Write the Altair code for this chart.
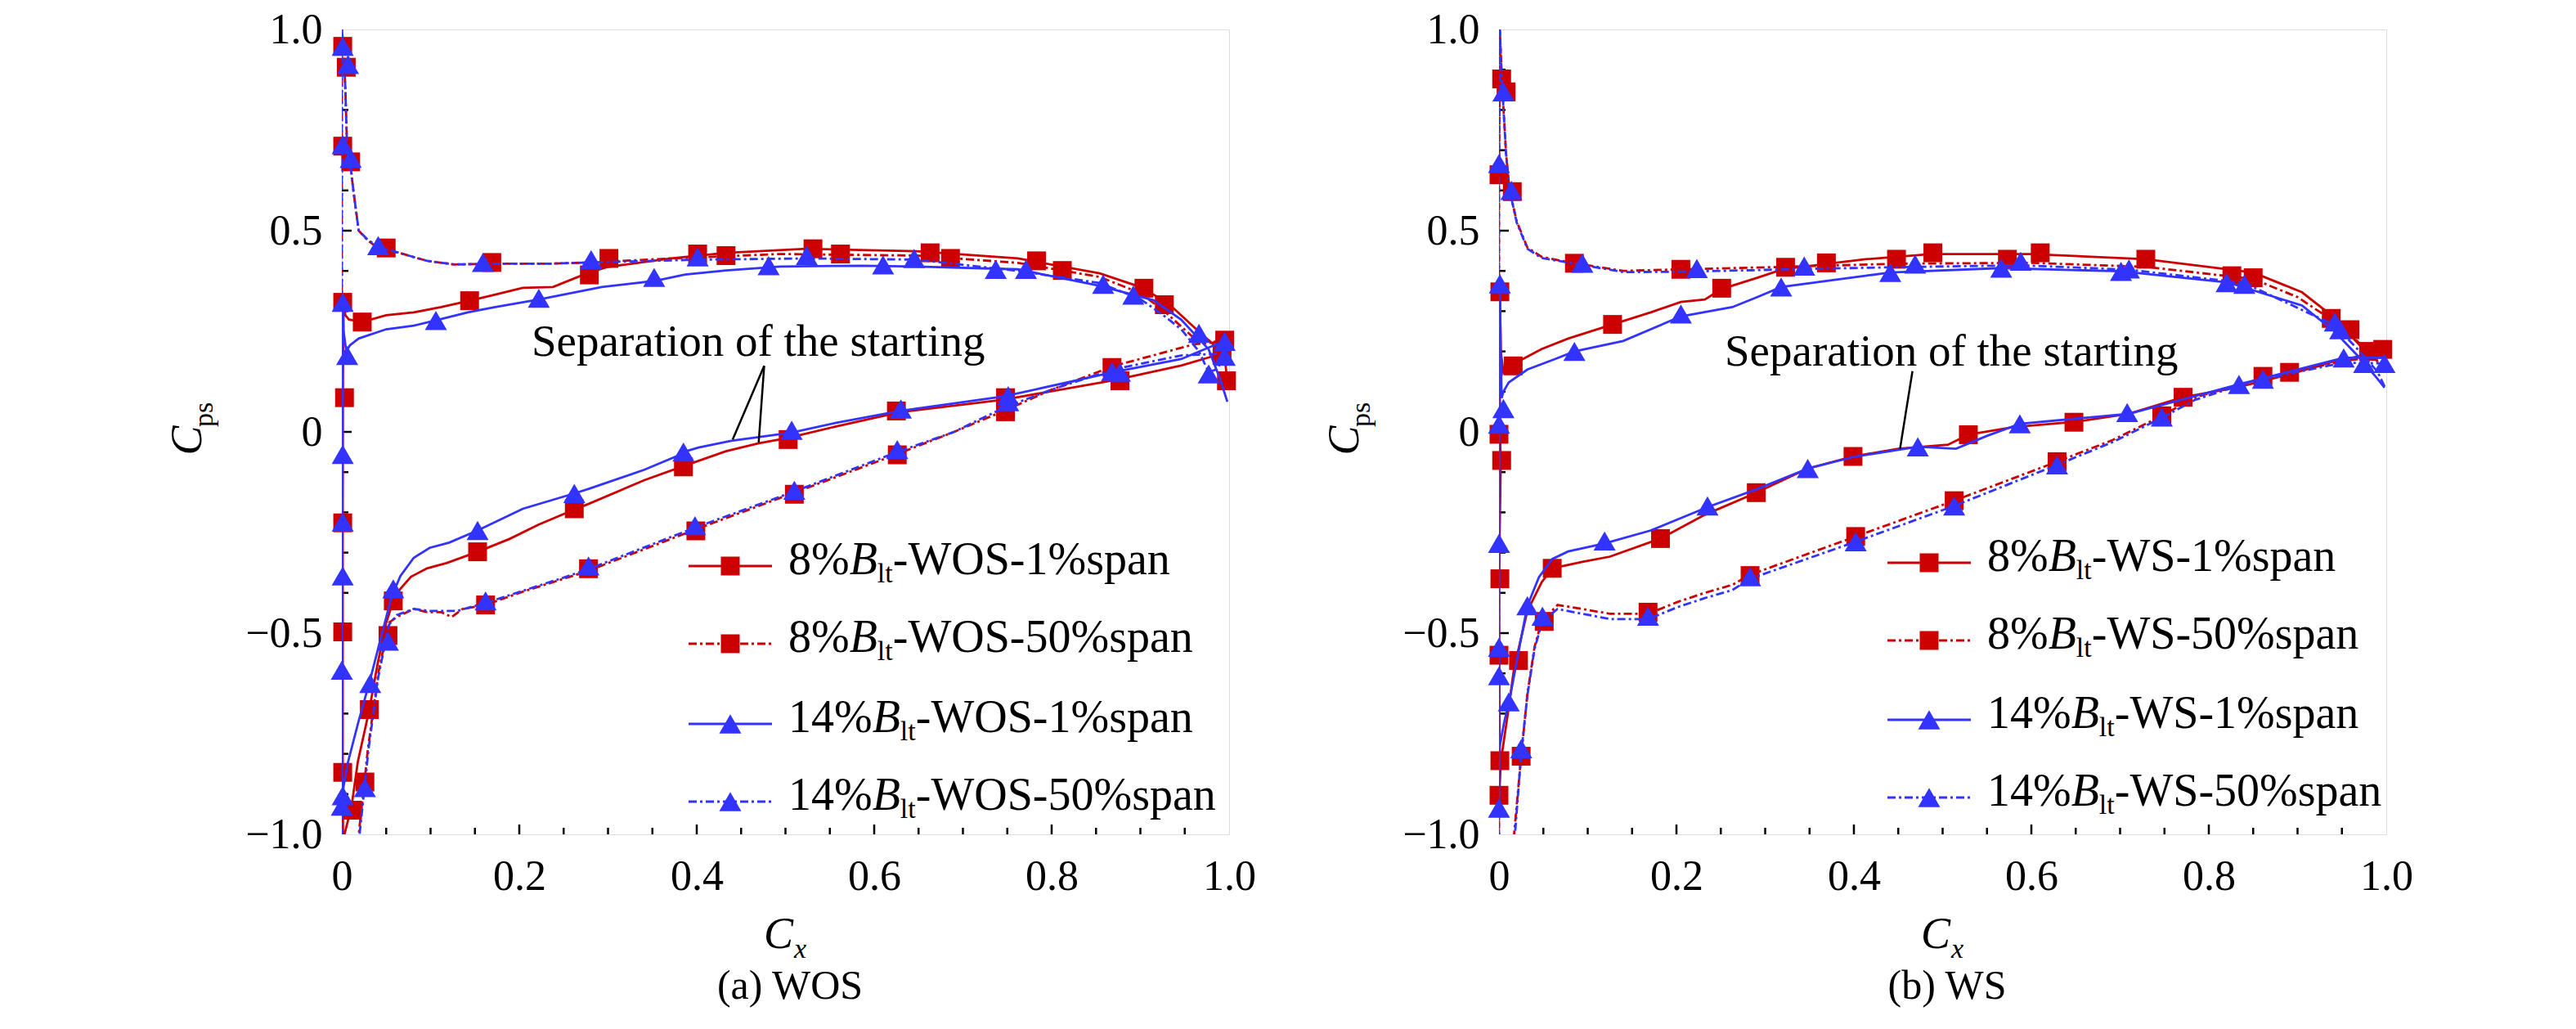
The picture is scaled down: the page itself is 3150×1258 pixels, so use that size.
import altair as alt
import pandas as pd

FONT = "Liberation Serif, Times New Roman, Tinos, DejaVu Serif, serif"
RED = "#CC0000"
BLUE = "#3333FF"
W, H = 1085, 984
LW = 2.8

# ---------------- (a) WOS ----------------
WOS_8_1_X = [0.998, 0.995, 0.986, 0.961, 0.931, 0.9, 0.854, 0.762, 0.648, 0.524, 0.433, 0.371, 0.3, 0.279, 0.266, 0.238, 0.204, 0.173, 0.144, 0.112, 0.081, 0.05, 0.023, 0.008, 0.004, 0.002,
             0.001, 0.001, 0.001, 0.001, 0.0015,
             0.003, 0.011, 0.018, 0.031, 0.04, 0.05, 0.058, 0.066, 0.078, 0.096, 0.118, 0.153, 0.189, 0.222, 0.262, 0.279, 0.341, 0.385, 0.433, 0.47, 0.503, 0.556, 0.629, 0.746, 0.869, 0.946, 0.977, 0.998]
WOS_8_1_Y = [0.12, 0.19, 0.21, 0.259, 0.32, 0.36, 0.394, 0.431, 0.449, 0.455, 0.445, 0.431, 0.41, 0.396, 0.385, 0.36, 0.358, 0.341, 0.326, 0.31, 0.297, 0.29, 0.273, 0.279, 0.29, 0.322,
             0.085, -0.226, -0.5, -0.85, -1.1,
             -1.0, -0.93, -0.82, -0.69, -0.58, -0.474, -0.42, -0.39, -0.36, -0.339, -0.326, -0.298, -0.266, -0.23, -0.193, -0.178, -0.12, -0.085, -0.048, -0.028, -0.015, 0.013, 0.049, 0.08, 0.128, 0.165, 0.185, 0.2]
WOS_8_1_MX = [0.001, 0.003, 0.001, 0.001, 0.001, 0.012, 0.031, 0.058, 0.153, 0.262, 0.385, 0.503, 0.625, 0.748, 0.877, 0.997, 0.023, 0.144, 0.279, 0.401, 0.531, 0.663, 0.783, 0.904, 0.992]
WOS_8_1_MY = [0.322, 0.085, -0.226, -0.497, -0.846, -0.94, -0.69, -0.42, -0.298, -0.191, -0.087, -0.019, 0.052, 0.085, 0.127, 0.127, 0.273, 0.326, 0.39, 0.442, 0.455, 0.445, 0.425, 0.357, 0.19]

WOS_8_50_X = [0.998, 0.99, 0.961, 0.927, 0.9, 0.854, 0.762, 0.648, 0.494, 0.371, 0.279, 0.235, 0.173, 0.127, 0.096, 0.066, 0.041, 0.029, 0.019, 0.013, 0.01, 0.006, 0.004, 0.002, 0.0,
              0.0, 0.0,
              0.017, 0.019, 0.026, 0.029, 0.041, 0.053, 0.062, 0.081, 0.096, 0.112, 0.124, 0.136, 0.162, 0.204, 0.25, 0.279, 0.398, 0.51, 0.626, 0.69, 0.746, 0.8, 0.869, 0.961, 0.998]
WOS_8_50_Y = [0.225, 0.222, 0.232, 0.3, 0.345, 0.385, 0.42, 0.438, 0.442, 0.431, 0.421, 0.418, 0.418, 0.416, 0.425, 0.444, 0.457, 0.476, 0.5, 0.6, 0.656, 0.7, 0.85, 0.95, 1.0,
              0.5, -1.1,
              -1.1, -1.0, -0.86, -0.795, -0.6, -0.474, -0.46, -0.44, -0.448, -0.448, -0.46, -0.44, -0.43, -0.397, -0.365, -0.344, -0.243, -0.151, -0.055, 0.0, 0.052, 0.105, 0.163, 0.218, 0.225]
WOS_8_50_MX = [0.001, 0.005, 0.001, 0.01, 0.05, 0.169, 0.301, 0.433, 0.562, 0.686, 0.812, 0.927, 0.995, 0.026, 0.052, 0.162, 0.278, 0.399, 0.51, 0.626, 0.748, 0.868]
WOS_8_50_MY = [0.958, 0.906, 0.71, 0.671, 0.457, 0.421, 0.431, 0.438, 0.442, 0.431, 0.401, 0.316, 0.228, -0.87, -0.506, -0.43, -0.34, -0.246, -0.155, -0.057, 0.05, 0.16]

WOS_14_1_X = [0.998, 0.99, 0.977, 0.946, 0.915, 0.854, 0.762, 0.648, 0.586, 0.494, 0.433, 0.387, 0.352, 0.293, 0.25, 0.222, 0.173, 0.142, 0.106, 0.081, 0.05, 0.019, 0.009, 0.005, 0.002, 0.001,
              0.001, 0.0, 0.0,
              0.002, 0.007, 0.019, 0.032, 0.044, 0.056, 0.066, 0.081, 0.099, 0.121, 0.153, 0.204, 0.262, 0.279, 0.341, 0.38, 0.385, 0.402, 0.439, 0.507, 0.556, 0.629, 0.746, 0.869, 0.946, 0.986, 0.998]
WOS_14_1_Y = [0.075, 0.13, 0.205, 0.279, 0.327, 0.363, 0.404, 0.411, 0.413, 0.411, 0.401, 0.391, 0.375, 0.36, 0.341, 0.329, 0.31, 0.297, 0.277, 0.264, 0.255, 0.232, 0.215, 0.2, 0.25, 0.322,
              0.0, -0.5, -0.93,
              -0.88, -0.82, -0.718, -0.615, -0.512, -0.41, -0.358, -0.313, -0.288, -0.275, -0.245, -0.191, -0.153, -0.141, -0.094, -0.058, -0.05, -0.039, -0.022, -0.002, 0.022, 0.052, 0.088, 0.148, 0.181, 0.218, 0.225]
WOS_14_1_MX = [0.001, 0.006, 0.001, 0.001, 0.001, 0.0, 0.0, 0.032, 0.058, 0.153, 0.262, 0.385, 0.507, 0.63, 0.751, 0.877, 0.995, 0.106, 0.222, 0.352, 0.481, 0.61, 0.737, 0.858, 0.966]
WOS_14_1_MY = [0.322, 0.19, -0.056, -0.224, -0.358, -0.592, -0.93, -0.625, -0.39, -0.245, -0.153, -0.05, 0.004, 0.057, 0.09, 0.148, 0.188, 0.277, 0.332, 0.384, 0.413, 0.415, 0.404, 0.367, 0.245]

WOS_14_50_X = [0.998, 0.985, 0.977, 0.966, 0.946, 0.927, 0.9, 0.854, 0.762, 0.648, 0.525, 0.402, 0.279, 0.235, 0.173, 0.127, 0.096, 0.066, 0.041, 0.029, 0.019, 0.013, 0.01, 0.006, 0.004, 0.002, 0.0,
               0.0, 0.0,
               0.018, 0.02, 0.026, 0.03, 0.041, 0.053, 0.062, 0.081, 0.1, 0.13, 0.162, 0.204, 0.25, 0.279, 0.398, 0.51, 0.626, 0.69, 0.746, 0.8, 0.869, 0.946, 0.998]
WOS_14_50_Y = [0.19, 0.155, 0.148, 0.2, 0.255, 0.288, 0.33, 0.37, 0.4, 0.428, 0.431, 0.428, 0.421, 0.418, 0.418, 0.416, 0.425, 0.444, 0.46, 0.478, 0.5, 0.6, 0.66, 0.7, 0.85, 0.95, 1.0,
               0.5, -1.1,
               -1.1, -1.0, -0.875, -0.79, -0.61, -0.48, -0.455, -0.44, -0.445, -0.445, -0.425, -0.395, -0.362, -0.34, -0.238, -0.148, -0.05, 0.0, 0.06, 0.105, 0.155, 0.19, 0.195]
WOS_14_50_MX = [0.001, 0.007, 0.001, 0.01, 0.041, 0.159, 0.281, 0.401, 0.524, 0.645, 0.771, 0.892, 0.977, 0.995, 0.001, 0.026, 0.052, 0.162, 0.278, 0.398, 0.51, 0.626, 0.751, 0.868]
WOS_14_50_MY = [0.958, 0.913, 0.714, 0.68, 0.463, 0.421, 0.428, 0.435, 0.438, 0.431, 0.404, 0.34, 0.144, 0.225, -0.904, -0.884, -0.52, -0.42, -0.333, -0.233, -0.145, -0.044, 0.075, 0.15]

# ---------------- (b) WS ----------------
WS_8_1_X = [0.998, 0.985, 0.97, 0.938, 0.905, 0.85, 0.729, 0.599, 0.487, 0.413, 0.32, 0.291, 0.251, 0.232, 0.205, 0.171, 0.128, 0.078, 0.048, 0.016, 0.008, 0.005, 0.002, 0.001,
            0.001, 0.002, 0.0, 0.0, 0.001, 0.0,
            0.002, 0.01, 0.017, 0.022, 0.032, 0.048, 0.06, 0.094, 0.125, 0.182, 0.232, 0.286, 0.348, 0.399, 0.45, 0.506, 0.529, 0.58, 0.65, 0.71, 0.771, 0.831, 0.891, 0.942, 0.998]
WS_8_1_Y = [0.184, 0.2, 0.216, 0.29, 0.347, 0.396, 0.429, 0.442, 0.442, 0.429, 0.404, 0.383, 0.355, 0.329, 0.323, 0.297, 0.267, 0.232, 0.206, 0.168, 0.161, 0.148, 0.2, 0.348,
            0.0, -0.07, -0.365, -0.555, -0.82, -0.92,
            -0.82, -0.7, -0.587, -0.54, -0.445, -0.374, -0.339, -0.323, -0.31, -0.265, -0.206, -0.155, -0.091, -0.061, -0.042, -0.032, -0.007, 0.012, 0.025, 0.045, 0.086, 0.11, 0.143, 0.176, 0.2]
WS_8_1_MX = [0.001, 0.016, 0.0, 0.003, 0.001, 0.0, 0.001, 0.0, 0.022, 0.06, 0.182, 0.29, 0.399, 0.529, 0.648, 0.771, 0.891, 0.996, 0.128, 0.251, 0.369, 0.489, 0.61, 0.729, 0.85, 0.959]
WS_8_1_MY = [0.348, 0.164, -0.006, -0.071, -0.365, -0.555, -0.817, -0.903, -0.568, -0.339, -0.265, -0.151, -0.061, -0.007, 0.024, 0.086, 0.148, 0.205, 0.267, 0.357, 0.42, 0.445, 0.445, 0.429, 0.383, 0.254]

WS_8_50_X = [0.998, 0.99, 0.97, 0.942, 0.9, 0.85, 0.73, 0.6, 0.45, 0.32, 0.205, 0.14, 0.085, 0.048, 0.032, 0.02, 0.012, 0.008, 0.003, 0.001,
             0.0, 0.0,
             0.015, 0.017, 0.025, 0.032, 0.04, 0.048, 0.066, 0.094, 0.125, 0.168, 0.202, 0.232, 0.263, 0.283, 0.402, 0.513, 0.629, 0.692, 0.747, 0.785, 0.834, 0.891, 0.952, 0.998]
WS_8_50_Y = [0.15, 0.175, 0.22, 0.273, 0.335, 0.38, 0.41, 0.42, 0.418, 0.41, 0.404, 0.4, 0.419, 0.435, 0.458, 0.523, 0.6, 0.69, 0.884, 1.0,
             0.6, -1.1,
             -1.1, -1.0, -0.806, -0.652, -0.535, -0.471, -0.43, -0.44, -0.452, -0.452, -0.422, -0.4, -0.38, -0.355, -0.26, -0.171, -0.074, -0.02, 0.04, 0.086, 0.118, 0.148, 0.176, 0.19]
WS_8_50_MX = [0.003, 0.008, 0.0, 0.015, 0.085, 0.205, 0.323, 0.448, 0.573, 0.826, 0.938, 0.98, 0.025, 0.051, 0.168, 0.283, 0.402, 0.513, 0.629, 0.747, 0.861]
WS_8_50_MY = [0.877, 0.845, 0.639, 0.597, 0.419, 0.404, 0.409, 0.429, 0.429, 0.388, 0.282, 0.2, -0.806, -0.471, -0.448, -0.357, -0.26, -0.171, -0.074, 0.04, 0.138]

WS_14_1_X = [0.998, 0.989, 0.97, 0.942, 0.905, 0.822, 0.701, 0.566, 0.441, 0.413, 0.318, 0.291, 0.263, 0.205, 0.14, 0.085, 0.063, 0.032, 0.011, 0.005, 0.003, 0.002, 0.001,
             0.0, 0.0, 0.0, 0.0, 0.0,
             0.0, 0.006, 0.012, 0.023, 0.032, 0.045, 0.06, 0.078, 0.119, 0.171, 0.235, 0.291, 0.348, 0.4, 0.472, 0.515, 0.55, 0.587, 0.71, 0.834, 0.952, 0.998]
WS_14_1_Y = [0.11, 0.135, 0.184, 0.249, 0.314, 0.371, 0.399, 0.407, 0.396, 0.388, 0.36, 0.335, 0.31, 0.287, 0.226, 0.2, 0.181, 0.155, 0.123, 0.1, 0.084, 0.2, 0.368,
             0.019, -0.277, -0.535, -0.606, -0.94,
             -0.79, -0.72, -0.665, -0.535, -0.432, -0.361, -0.316, -0.297, -0.277, -0.245, -0.187, -0.142, -0.091, -0.062, -0.037, -0.042, -0.01, 0.02, 0.045, 0.118, 0.184, 0.184]
WS_14_1_MX = [0.001, 0.005, 0.0, 0.0, 0.0, 0.011, 0.032, 0.119, 0.235, 0.348, 0.472, 0.587, 0.708, 0.834, 0.952, 0.085, 0.205, 0.318, 0.441, 0.566, 0.701, 0.82, 0.942]
WS_14_1_MY = [0.368, 0.058, 0.019, -0.277, -0.535, -0.671, -0.432, -0.271, -0.184, -0.091, -0.037, 0.02, 0.048, 0.118, 0.184, 0.2, 0.293, 0.36, 0.396, 0.407, 0.399, 0.371, 0.273]

WS_14_50_X = [0.998, 0.99, 0.97, 0.942, 0.84, 0.71, 0.588, 0.469, 0.344, 0.291, 0.205, 0.14, 0.094, 0.048, 0.032, 0.02, 0.012, 0.008, 0.003, 0.001,
              0.0, 0.0,
              0.016, 0.018, 0.025, 0.032, 0.04, 0.049, 0.066, 0.094, 0.125, 0.168, 0.202, 0.232, 0.263, 0.283, 0.402, 0.513, 0.629, 0.692, 0.747, 0.785, 0.834, 0.891, 0.952, 0.998]
WS_14_50_Y = [0.113, 0.15, 0.2, 0.265, 0.37, 0.403, 0.414, 0.41, 0.405, 0.402, 0.398, 0.397, 0.415, 0.432, 0.455, 0.52, 0.6, 0.69, 0.884, 1.0,
              0.6, -1.1,
              -1.1, -1.0, -0.8, -0.655, -0.54, -0.47, -0.44, -0.452, -0.465, -0.465, -0.435, -0.413, -0.393, -0.365, -0.273, -0.184, -0.082, -0.025, 0.035, 0.08, 0.115, 0.145, 0.172, 0.17]
WS_14_50_MX = [0.005, 0.0, 0.014, 0.094, 0.223, 0.344, 0.469, 0.588, 0.71, 0.84, 0.948, 0.0, 0.0, 0.025, 0.049, 0.168, 0.283, 0.402, 0.513, 0.629, 0.747, 0.861, 0.975, 0.998]
WS_14_50_MY = [0.845, 0.667, 0.6, 0.419, 0.406, 0.412, 0.417, 0.424, 0.405, 0.367, 0.254, -0.606, -0.935, -0.787, -0.458, -0.458, -0.36, -0.273, -0.184, -0.082, 0.037, 0.131, 0.17, 0.17]

# annotation leader lines (x1, y1, x2, y2) in data units
WOS_ANN_X1 = [0.476, 0.476]
WOS_ANN_Y1 = [0.164, 0.164]
WOS_ANN_X2 = [0.4405, 0.4698]
WOS_ANN_Y2 = [-0.019, -0.026]
WS_ANN_X1 = [0.466]
WS_ANN_Y1 = [0.151]
WS_ANN_X2 = [0.452]
WS_ANN_Y2 = [-0.042]

X_LABELS = [0, 0.2, 0.4, 0.6, 0.8, 1.0]
Y_LABELS = [-1.0, -0.5, 0, 0.5, 1.0]
X_MINOR = [0.05, 0.1, 0.15, 0.25, 0.3, 0.35, 0.45, 0.5, 0.55, 0.65, 0.7, 0.75, 0.85, 0.9, 0.95]
X_MAJOR = [0.2, 0.4, 0.6, 0.8]
Y_MINOR = [-0.9, -0.8, -0.7, -0.6, -0.4, -0.3, -0.2, -0.1, 0.1, 0.2, 0.3, 0.4, 0.6, 0.7, 0.8, 0.9]
Y_MAJOR = [-0.5, 0.0, 0.5]

XS = alt.Scale(domain=[0, 1], nice=False, zero=False)
YS = alt.Scale(domain=[-1, 1], nice=False, zero=False)
XAX = alt.Axis(values=X_LABELS, labelExpr="datum.value == 0 ? '0' : format(datum.value, '.1f')",
               ticks=False, tickSize=0, domain=False, grid=False, labelFont=FONT, labelFontSize=52,
               labelColor="black", labelPadding=26, labelFlush=False, labelOverlap=False, title=None)
YAX = alt.Axis(values=Y_LABELS,
               labelExpr="datum.value == 0 ? '0' : replace(format(datum.value, '.1f'), '-', '\u2212')",
               ticks=False, tickSize=0, domain=False, grid=False, labelFont=FONT, labelFontSize=52,
               labelColor="black", labelPadding=24, labelFlush=False, labelOverlap=False, title=None)

ONE = pd.DataFrame({"a": [0]})

def X(f="cx"):
    return alt.X(f"{f}:Q", scale=XS, axis=XAX)

def Y(f="cps"):
    return alt.Y(f"{f}:Q", scale=YS, axis=YAX)

def txt(s, x, y, size, style="normal", align="left", angle=0):
    return alt.Chart(ONE).mark_text(font=FONT, fontSize=size, fontStyle=style, align=align,
                                    baseline="alphabetic", angle=angle, color="black").encode(
        x=alt.value(x), y=alt.value(y), text=alt.value(s))

CW = {"0": .5, "1": .5, "2": .5, "3": .5, "4": .5, "5": .5, "6": .5, "7": .5, "8": .5, "9": .5, "%": .833}

def series_layers(lx, ly, mx, my, color, dash, shape, size):
    df = pd.DataFrame({"cx": lx, "cps": ly, "i": list(range(len(lx)))})
    kw = {"strokeDash": dash} if dash else {}
    line = alt.Chart(df).mark_line(color=color, strokeWidth=LW, clip=True, **kw).encode(
        x=X(), y=Y(), order="i:Q")
    mdf = pd.DataFrame({"cx": mx, "cps": my})
    pts = alt.Chart(mdf).mark_point(shape=shape, filled=True, size=size, color=color, opacity=1,
                                    strokeWidth=0).encode(x=X(), y=Y())
    return [line, pts]

DASH_R = [10, 4, 3, 4]
DASH_B = [10, 4, 3, 4]

def panel(series, ann, ann_text_xy, tag, caption, lx0, rows, anchor=False):
    layers = []
    if anchor:
        layers.append(alt.Chart(ONE).mark_rule(color="white", strokeWidth=1).encode(
            x=alt.value(-408.5), x2=alt.value(-408.5), y=alt.value(-27), y2=alt.value(-20)))
    # inward ticks
    for vals, ln in ((X_MINOR, 8), (X_MAJOR, 12)):
        d = pd.DataFrame({"cx": vals})
        layers.append(alt.Chart(d).mark_rule(color="black", strokeWidth=2.5).encode(
            x=X(), y=alt.value(H), y2=alt.value(H - ln)))
    for vals, ln in ((Y_MINOR, 8), (Y_MAJOR, 12)):
        d = pd.DataFrame({"cps": vals})
        layers.append(alt.Chart(d).mark_rule(color="black", strokeWidth=2.5).encode(
            y=Y(), x=alt.value(0), x2=alt.value(ln)))
    for s in series:
        layers += series_layers(*s)
    # annotation
    adf = pd.DataFrame({"cx": ann[0], "cps": ann[1], "cx2": ann[2], "cps2": ann[3]})
    layers.append(alt.Chart(adf).mark_rule(color="black", strokeWidth=2.5).encode(
        x=X(), y=Y(), x2="cx2:Q", y2="cps2:Q"))
    layers.append(txt("Separation of the starting", ann_text_xy[0], ann_text_xy[1], 55))
    # legend
    names = ["8%", "8%", "14%", "14%"]
    rests = [f"-{tag}-1%span", f"-{tag}-50%span", f"-{tag}-1%span", f" -{tag}-50%span"]
    styles = [(RED, None, "square", 529), (RED, DASH_R, "square", 529),
              (BLUE, None, "triangle-up", 729), (BLUE, DASH_B, "triangle-up", 729)]
    for k in range(4):
        ly = rows[k]
        color, dash, shape, size = styles[k]
        kw = {"strokeDash": dash} if dash else {}
        layers.append(alt.Chart(ONE).mark_rule(color=color, strokeWidth=LW, **kw).encode(
            x=alt.value(lx0 - 122), x2=alt.value(lx0 - 20), y=alt.value(ly)))
        layers.append(alt.Chart(ONE).mark_point(shape=shape, filled=True, size=size, color=color,
                                                opacity=1, strokeWidth=0).encode(
            x=alt.value(lx0 - 71), y=alt.value(ly)))
        base = ly + 10
        nw = sum(CW[c] for c in names[k]) * 56
        layers.append(txt(names[k], lx0, base, 56))
        layers.append(txt("B", lx0 + nw, base, 56, style="italic"))
        layers.append(txt("lt", lx0 + nw + 0.611 * 56, base + 10, 34))
        layers.append(txt(rests[k], lx0 + nw + 0.611 * 56 + 0.556 * 34, base, 56))
    # axis titles
    layers.append(txt("C", -172, 502.5, 54, style="italic", align="center", angle=270))
    layers.append(txt("ps", -158, 471, 34, align="center", angle=270))
    layers.append(txt("C", 516, 1123, 54, style="italic"))
    layers.append(txt("x", 553, 1135, 34, style="italic"))
    layers.append(txt(caption, 548, 1185, 50, align="center"))
    return alt.layer(*layers).properties(width=W, height=H)

left = panel(
    [(WOS_8_1_X, WOS_8_1_Y, WOS_8_1_MX, WOS_8_1_MY, RED, None, "square", 529),
     (WOS_8_50_X, WOS_8_50_Y, WOS_8_50_MX, WOS_8_50_MY, RED, DASH_R, "square", 529),
     (WOS_14_1_X, WOS_14_1_Y, WOS_14_1_MX, WOS_14_1_MY, BLUE, None, "triangle-up", 729),
     (WOS_14_50_X, WOS_14_50_Y, WOS_14_50_MX, WOS_14_50_MY, BLUE, DASH_B, "triangle-up", 729)],
    (WOS_ANN_X1, WOS_ANN_Y1, WOS_ANN_X2, WOS_ANN_Y2), (232, 399), "WOS", "(a) WOS",
    546, [656, 751, 849, 944], anchor=True)

right = panel(
    [(WS_8_1_X, WS_8_1_Y, WS_8_1_MX, WS_8_1_MY, RED, None, "square", 529),
     (WS_8_50_X, WS_8_50_Y, WS_8_50_MX, WS_8_50_MY, RED, DASH_R, "square", 529),
     (WS_14_1_X, WS_14_1_Y, WS_14_1_MX, WS_14_1_MY, BLUE, None, "triangle-up", 729),
     (WS_14_50_X, WS_14_50_Y, WS_14_50_MX, WS_14_50_MY, BLUE, DASH_B, "triangle-up", 729)],
    (WS_ANN_X1, WS_ANN_Y1, WS_ANN_X2, WS_ANN_Y2), (276, 411), "WS", "(b) WS",
    597, [652, 747, 844, 939])

chart = alt.hconcat(left, right, spacing=330, bounds="flush").properties(
    padding={"left": 0, "top": 0, "right": 5, "bottom": 5}
).configure_view(stroke="black", strokeWidth=3).configure(background="white")

chart.save("out.html", embed_options={"renderer": "svg", "actions": False})
